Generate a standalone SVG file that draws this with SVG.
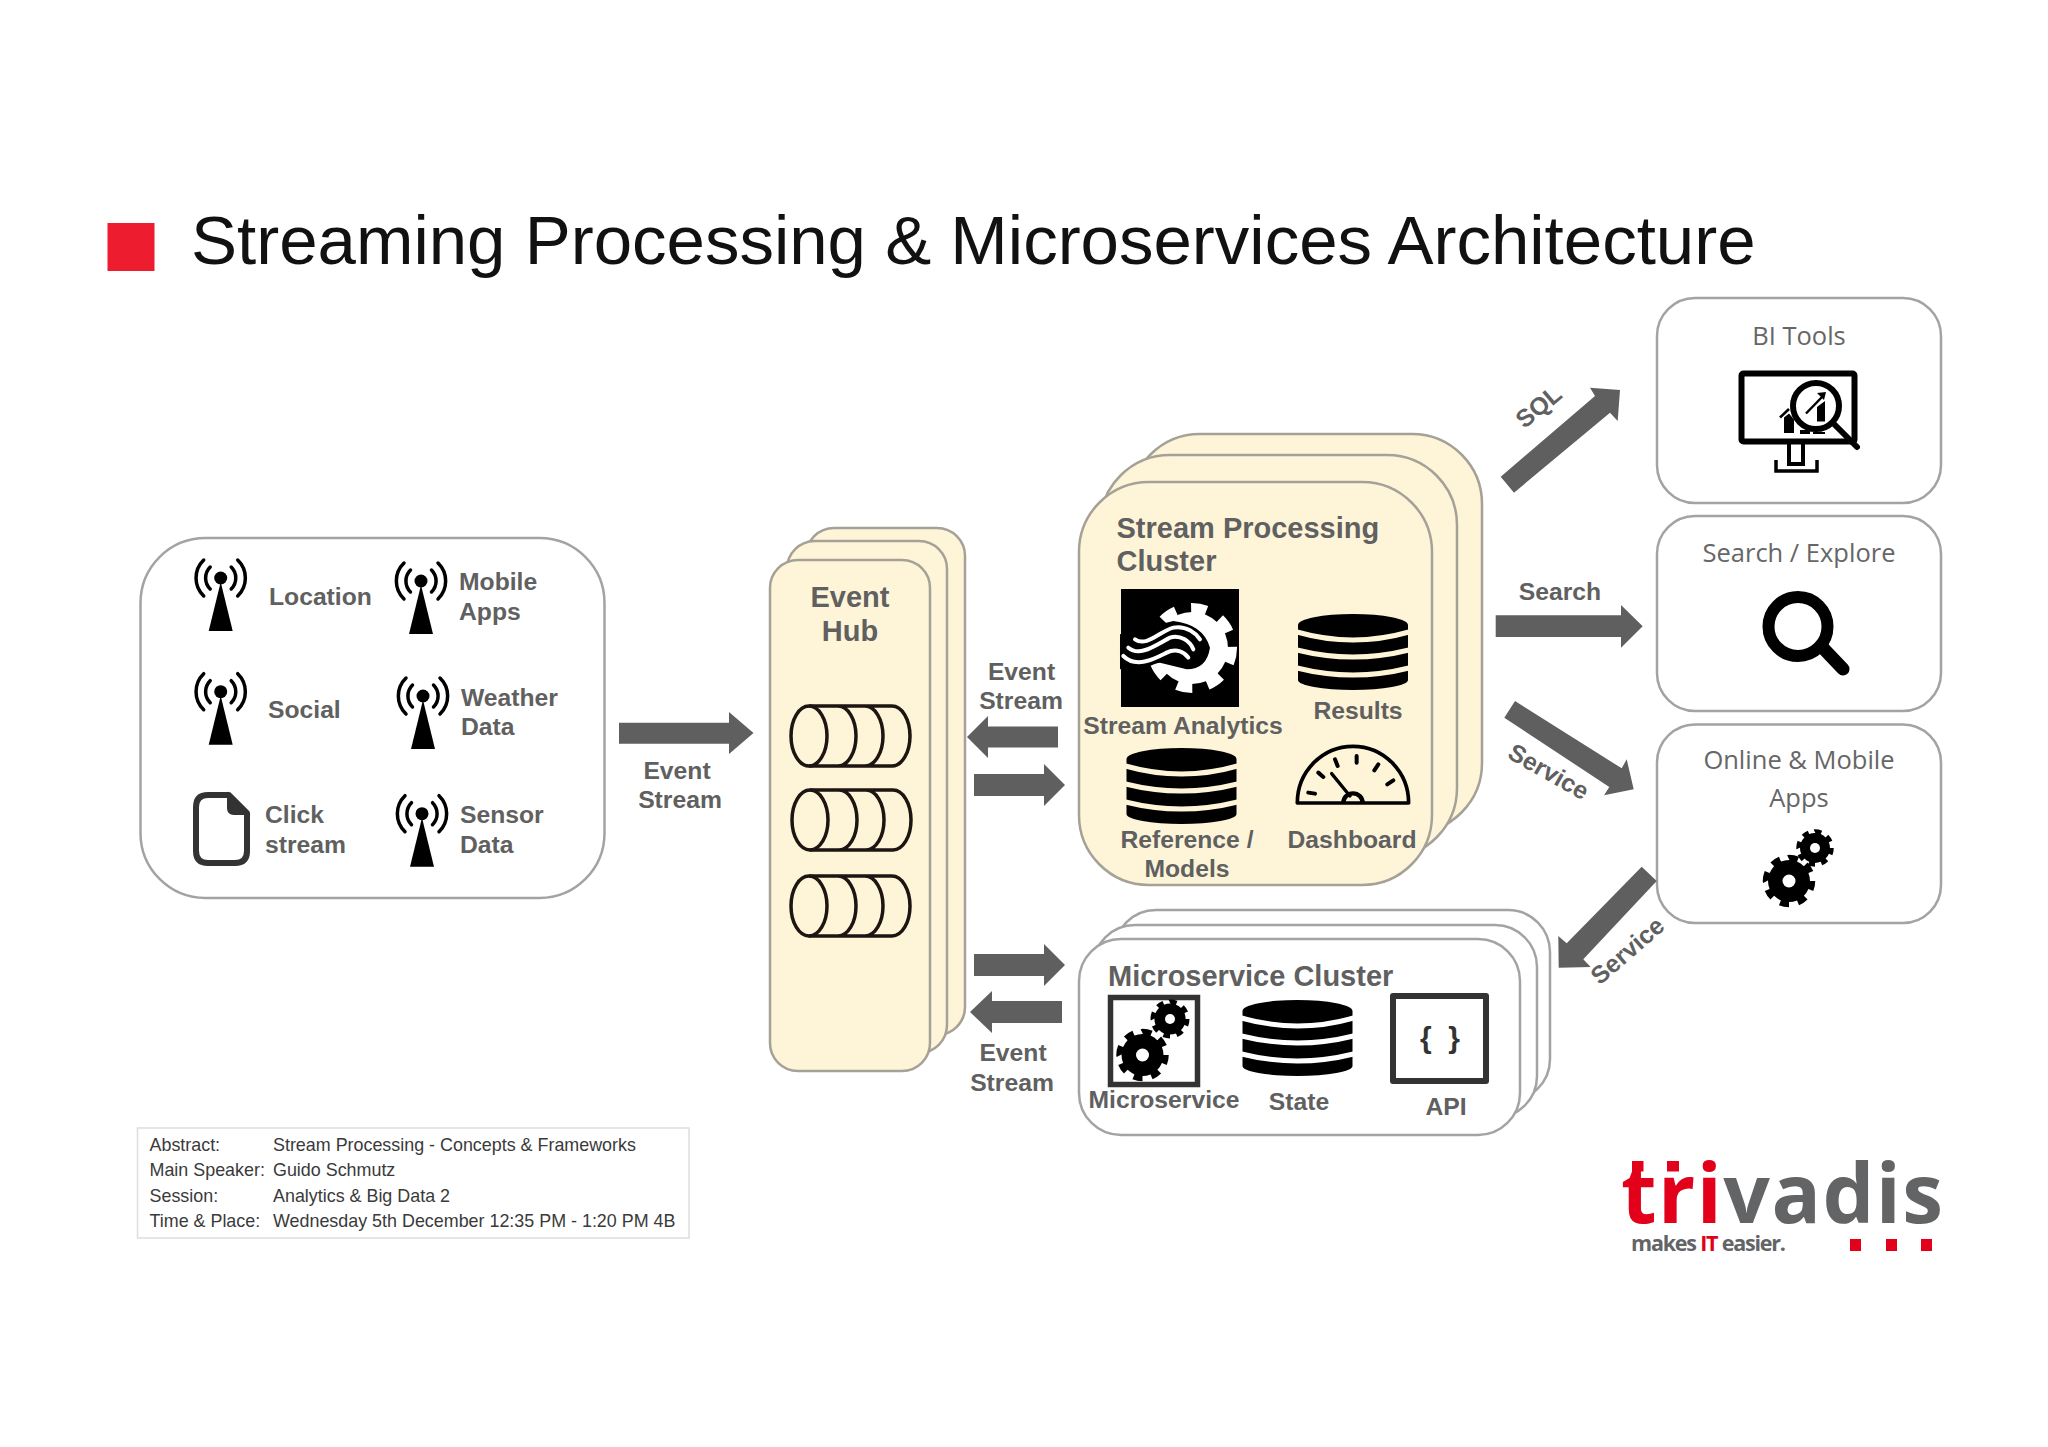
<svg xmlns="http://www.w3.org/2000/svg" width="2048" height="1447" viewBox="0 0 2048 1447">
<style>
.b{font-family:"Liberation Sans",Arial,sans-serif;font-weight:700;font-size:24.7px;fill:#606060}
.m{text-anchor:middle}
.h{font-size:29px}
.o{font-family:"Open Sans",sans-serif;font-weight:400;font-size:25.5px;fill:#666;text-anchor:middle}
.a{font-family:"Liberation Sans",Arial,sans-serif;font-size:17.9px;fill:#3a3a3a}
.box{fill:#fff;stroke:#a3a3a3;stroke-width:2.5}
.cream{fill:#fef5d9;stroke:#a5a197;stroke-width:2.5}
.arrow{fill:#5f5f5f}
.q{fill:none;stroke:#1c1512;stroke-width:3.5}
.ant{fill:none;stroke:#000;stroke-width:3.5;stroke-linecap:round}
</style>
<defs>
<g id="antenna">
<path d="M0,4L-12,53H12Z" fill="#000"/>
<circle r="6.5" fill="#000"/>
<path class="ant" d="M-10.500,-11A15.500,15.500 0 0 0 -10.500,11M10.500,-11A15.500,15.500 0 0 1 10.500,11M-17,-18A25,25 0 0 0 -17,18M17,-18A25,25 0 0 1 17,18"/>
</g>
<g id="db">
<path d="M0,11A55,11 0 0 1 110,11V66A55,10 0 0 1 0,66Z" fill="#000"/>
<path d="M-1,18Q55,34 111,18M-1,36Q55,50 111,36M-1,54Q55,68 111,54" fill="none" stroke="currentColor" stroke-width="5"/>
</g>
<g id="gear">
<circle r="20" fill="currentColor"/>
<circle r="21" fill="none" stroke="currentColor" stroke-width="8" pathLength="16" stroke-dasharray="1 1"/>
</g>
<g id="queue" class="q">
<ellipse cx="18" cy="30" rx="18" ry="30"/>
<path d="M18,0H101M18,60H101M47,0A18,30 0 0 1 47,60M74,0A18,30 0 0 1 74,60M101,0A18,30 0 0 1 101,60"/>
</g>
</defs>
<rect width="2048" height="1447" fill="#fff"/>
<g transform="translate(0,1)">
<g id="title">
<rect x="107.500" y="222" width="47" height="48" fill="#ed1c2e"/>
<text x="191" y="263" font-family="Liberation Sans, sans-serif" font-size="69" fill="#111">Streaming Processing &amp; Microservices Architecture</text>
</g>
<g id="sources">
<rect class="box" x="140.500" y="537" width="464" height="360" rx="65"/>
<use href="#antenna" x="220.700" y="577"/>
<use href="#antenna" x="421" y="580"/>
<use href="#antenna" x="220.700" y="690.700"/>
<use href="#antenna" x="423" y="695"/>
<use href="#antenna" x="422" y="812.700"/>
<path d="M208,794H229L247,812V850Q247,862 235,862H208Q196,862 196,850V806Q196,794 208,794Z" fill="#fff" stroke="#333" stroke-width="6" stroke-linejoin="round"/>
<path d="M228,793L248,813H234Q228,813 228,807Z" fill="#333" stroke="#333" stroke-width="2"/>
<text class="b" x="269" y="604">Location</text>
<text class="b" x="459" y="589">Mobile</text>
<text class="b" x="459" y="619">Apps</text>
<text class="b" x="268" y="717">Social</text>
<text class="b" x="461" y="705">Weather</text>
<text class="b" x="461" y="734">Data</text>
<text class="b" x="265" y="822">Click</text>
<text class="b" x="265" y="852">stream</text>
<text class="b" x="460" y="822">Sensor</text>
<text class="b" x="460" y="852">Data</text>
</g>
<g id="event-hub">
<rect class="cream" x="806" y="527" width="159" height="507" rx="28"/>
<rect class="cream" x="787" y="540" width="160" height="512" rx="28"/>
<rect class="cream" x="770" y="559" width="160" height="511" rx="28"/>
<text class="b h m" x="850" y="606">Event</text>
<text class="b h m" x="850" y="640">Hub</text>
<use href="#queue" x="791" y="705"/>
<use href="#queue" x="792" y="789"/>
<use href="#queue" x="791" y="875"/>
</g>
<g id="stream-processing-cluster">
<rect class="cream" x="1130" y="433" width="352" height="399" rx="70"/>
<rect class="cream" x="1100" y="454" width="357" height="403" rx="70"/>
<rect class="cream" x="1079" y="481" width="353" height="403" rx="70"/>
<text class="b h" x="1116.500" y="537">Stream Processing</text>
<text class="b h" x="1116.500" y="570">Cluster</text>
<g id="stream-analytics">
<rect x="1121" y="588" width="118" height="118" fill="#000"/>
<use href="#gear" color="#fff" transform="translate(1192,647) scale(1.8)"/>
<g transform="translate(1060,420) scale(.3333)">
<path d="M180,640L340,600Q430,610 450,680Q440,745 380,745L300,725L180,745Z" fill="#000"/>
<g fill="none" stroke="#fff" stroke-width="12" stroke-linecap="round">
<path d="M225,655C260,680 300,630 340,620C380,612 410,640 420,655"/>
<path d="M205,680C240,710 290,670 330,650C360,640 390,660 400,685"/>
<path d="M190,705C230,745 290,710 320,695C350,680 375,695 385,710"/>
</g>
</g>
<text class="b m" x="1183" y="733">Stream Analytics</text>
</g>
<g id="results">
<use href="#db" x="1298" y="613" color="#fef5d9"/>
<text class="b m" x="1358" y="718">Results</text>
</g>
<g id="reference-models">
<use href="#db" x="1126.500" y="747" color="#fef5d9"/>
<text class="b m" x="1187" y="847">Reference /</text>
<text class="b m" x="1187" y="876">Models</text>
</g>
<g id="dashboard">
<g transform="translate(1060,420) scale(.3333)" fill="none" stroke="#000">
<path d="M712,1146A167,170 0 0 1 1046,1146Z" stroke-width="11" stroke-linejoin="round"/>
<path d="M745,1115L765,1118M775,1055L790,1068M825,1015L833,1035M890,1005L890,1025M955,1030L943,1048M1000,1078L982,1090" stroke-width="12" stroke-linecap="round"/>
<path d="M815,1058L870,1125" stroke-width="10" stroke-linecap="round"/>
<path d="M850,1146A29,29 0 0 1 908,1146" stroke-width="13"/>
</g>
<text class="b m" x="1352" y="847">Dashboard</text>
</g>
</g>
<g id="microservice-cluster">
<rect class="box" x="1114" y="909" width="436" height="191" rx="42"/>
<rect class="box" x="1093" y="924" width="444" height="193" rx="42"/>
<rect class="box" x="1079" y="938" width="441" height="196" rx="42"/>
<text class="b h" x="1108" y="985">Microservice Cluster</text>
<g id="microservice">
<rect x="1110.500" y="996.500" width="87" height="87" fill="#fff" stroke="#333" stroke-width="5.500"/>
<use href="#gear" color="#000" transform="translate(1170,1018) scale(.78)"/>
<circle cx="1170" cy="1018" r="5" fill="#fff"/>
<use href="#gear" color="#000" transform="translate(1142.500,1054) scale(1.05)"/>
<circle cx="1142.500" cy="1054" r="6.500" fill="#fff"/>
<text class="b m" x="1164" y="1107">Microservice</text>
</g>
<g id="state">
<use href="#db" x="1242.500" y="999" color="#fff"/>
<text class="b m" x="1299" y="1109">State</text>
</g>
<g id="api">
<rect x="1393" y="995" width="93" height="85" fill="#fff" stroke="#333" stroke-width="6" stroke-linejoin="round"/>
<text class="b m" x="1440" y="1047" style="font-size:30px;fill:#333" xml:space="preserve">{  }</text>
<text class="b m" x="1446" y="1114">API</text>
</g>
</g>
<g id="bi-tools">
<rect class="box" x="1657" y="297" width="284" height="205" rx="38"/>
<text class="o" x="1799" y="344">BI Tools</text>
<g fill="none" stroke="#000">
<rect x="1741.500" y="372.500" width="113" height="68" rx="2" stroke-width="6"/>
<path d="M1789,443V463H1803V443" stroke-width="4"/>
<path d="M1776,459V470H1817V459" stroke-width="3.500"/>
<circle cx="1816" cy="405" r="23" fill="#fff" stroke-width="6"/>
<path d="M1833,422L1857,446" stroke-width="6" stroke-linecap="round"/>
<path d="M1780,416.500L1789,408" stroke-width="2.500"/>
<path d="M1806,412.500L1823,395" stroke-width="2.500"/>
</g>
<path d="M1784,432V416.500L1789,412.500L1794,418.600V432ZM1817,420.600V406L1825,400V420.600ZM1800,429H1810V433H1800ZM1813,431H1825V433H1813ZM1817,392L1826,391L1824,399Z" fill="#000"/>
</g>
<g id="search-explore">
<rect class="box" x="1657" y="515" width="284" height="195" rx="38"/>
<text class="o" x="1799" y="561">Search / Explore</text>
<circle cx="1798" cy="625.500" r="29.500" fill="none" stroke="#000" stroke-width="12"/>
<path d="M1823,647L1843,668" stroke="#000" stroke-width="13" stroke-linecap="round"/>
</g>
<g id="online-mobile-apps">
<rect class="box" x="1657" y="723.500" width="284" height="198.500" rx="38"/>
<text class="o" x="1799" y="768">Online &amp; Mobile</text>
<text class="o" x="1799" y="806">Apps</text>
<use href="#gear" color="#000" transform="translate(1815,847) scale(.75)"/>
<circle cx="1815" cy="847" r="5" fill="#fff"/>
<use href="#gear" color="#000" transform="translate(1789,880) scale(1.05)"/>
<circle cx="1789" cy="880" r="6.500" fill="#fff"/>
</g>
<g id="connectors">
<polygon class="arrow" points="619,721.700 729,721.700 729,711 753.500,732 729,753 729,742.700 619,742.700"/>
<polygon class="arrow" points="1058,725.500 988,725.500 988,715 967,736 988,757 988,746.500 1058,746.500"/>
<polygon class="arrow" points="974,773 1044,773 1044,763 1065,784 1044,805 1044,795 974,795"/>
<polygon class="arrow" points="974,953 1044,953 1044,943 1065,964 1044,985 1044,975 974,975"/>
<polygon class="arrow" points="1062,1000 992,1000 992,990 970,1011 992,1032 992,1022 1062,1022"/>
<polygon class="arrow" points="1500.700,475.700 1595,395 1590,386.700 1620,389 1617.700,420 1610,411.700 1514,491.700"/>
<polygon class="arrow" points="1495.700,614.300 1621,614.300 1621,604 1642.700,625.300 1621,646.700 1621,636 1495.700,636"/>
<polygon class="arrow" points="1515,700 1621.700,767.300 1626.700,758.300 1633.700,788.300 1604,794.300 1609.300,786 1504.300,716.700"/>
<polygon class="arrow" points="1641.700,865.700 1566.700,942.300 1558.300,935 1558.700,966.700 1590.700,966 1583.300,958.300 1656.700,880"/>
</g>
<g id="connector-labels">
<text class="b m" x="677" y="778">Event</text>
<text class="b m" x="680" y="807">Stream</text>
<text class="b m" x="1021.500" y="679">Event</text>
<text class="b m" x="1021" y="708">Stream</text>
<text class="b m" x="1013" y="1060">Event</text>
<text class="b m" x="1012" y="1090">Stream</text>
<text class="b m" x="1560" y="599">Search</text>
<text class="b m" transform="translate(1544,412) rotate(-40)">SQL</text>
<text class="b m" transform="translate(1544.500,778) rotate(29.500)">Service</text>
<text class="b m" transform="translate(1633,956) rotate(-41)">Service</text>
</g>
<g id="session-info">
<rect x="137.500" y="1127" width="551.500" height="110" fill="#fff" stroke="#ddd" stroke-width="1.500"/>
<text class="a" x="149.500" y="1150">Abstract:</text><text class="a" x="273" y="1150">Stream Processing - Concepts &amp; Frameworks</text>
<text class="a" x="149.500" y="1175">Main Speaker:</text><text class="a" x="273" y="1175">Guido Schmutz</text>
<text class="a" x="149.500" y="1201">Session:</text><text class="a" x="273" y="1201">Analytics &amp; Big Data 2</text>
<text class="a" x="149.500" y="1226">Time &amp; Place:</text><text class="a" x="273" y="1226">Wednesday 5th December 12:35 PM - 1:20 PM 4B</text>
</g>
<g id="logo">
<text x="1621" y="1222" font-family="Open Sans, sans-serif" font-weight="700" font-size="82" fill="#636466" textLength="322" lengthAdjust="spacing"><tspan fill="#e2001a">tri</tspan>vadis</text>
<rect x="1632" y="1160" width="11.500" height="10.500" fill="#e2001a"/>
<rect x="1667" y="1160" width="12" height="10.500" fill="#e2001a"/>
<text x="1631" y="1250" font-family="Open Sans, sans-serif" font-weight="700" font-size="21.500" fill="#636466" textLength="155" lengthAdjust="spacing">makes <tspan fill="#e2001a">IT</tspan> easier.</text>
<rect x="1850" y="1238" width="11" height="12" fill="#e2001a"/>
<rect x="1886" y="1238" width="11" height="12" fill="#e2001a"/>
<rect x="1921" y="1238" width="11" height="12" fill="#e2001a"/>
</g>
</g>
</svg>
